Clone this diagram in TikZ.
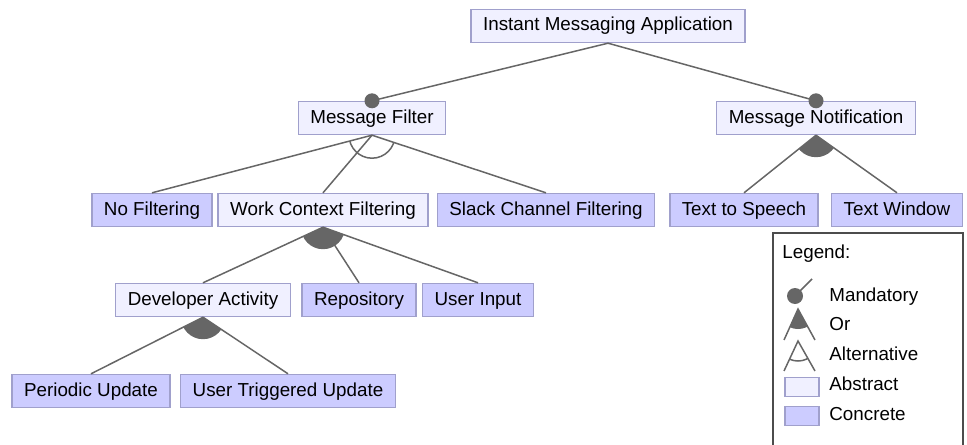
\documentclass[tikz,border=0pt]{standalone}
\usepackage{fontspec}
\setmainfont{Liberation Sans}

\definecolor{abstractfill}{HTML}{F0F0FF}
\definecolor{concretefill}{HTML}{CCCCFF}
\definecolor{featborder}{HTML}{A0A0CC}
\definecolor{edgegray}{HTML}{666666}

\tikzset{
  feature/.style={draw=featborder, line width=0.7pt, minimum height=16.5pt,
    inner xsep=6pt, inner ysep=0pt, text height=7pt, text depth=2pt,
    font=\fontsize{9.4}{11}\selectfont},
  abstract/.style={feature, fill=abstractfill},
  concrete/.style={feature, fill=concretefill},
  edge/.style={draw=edgegray, line width=0.75pt},
  legendtext/.style={anchor=west, inner sep=3pt, text height=7pt, text depth=2pt,
    font=\fontsize{9.4}{11}\selectfont},
}

\begin{document}
\begin{tikzpicture}[x=0.5pt, y=-0.5pt]
  \path[use as bounding box] (0,0) rectangle (967,444);

  % features
  \node[abstract] at (608,26) (ima) {Instant Messaging Application};
  \node[abstract] at (372,118) (filter) {Message Filter};
  \node[abstract] at (816,118) (notif) {Message Notification};
  \node[concrete] at (152,210) (nofilt) {No Filtering};
  \node[abstract] at (323,210) (workctx) {Work Context Filtering};
  \node[concrete] at (546,210) (slack) {Slack Channel Filtering};
  \node[concrete] at (744,210) (speech) {Text to Speech};
  \node[concrete] at (897,210) (window) {Text Window};
  \node[abstract] at (203,300) (devact) {Developer Activity};
  \node[concrete] at (359,300) (repo) {Repository};
  \node[concrete] at (478,300) (userin) {User Input};
  \node[concrete] at (91,391) (periodic) {Periodic Update};
  \node[concrete] at (288,391) (triggered) {User Triggered Update};

  % edges
  \path[edge] (ima.south) -- (filter.north);
  \path[edge] (ima.south) -- (notif.north);
  \path[edge] (filter.south) -- (nofilt.north);
  \path[edge] (filter.south) -- (workctx.north);
  \path[edge] (filter.south) -- (slack.north);
  \path[edge] (notif.south) -- (speech.north);
  \path[edge] (notif.south) -- (window.north);
  \path[edge] (workctx.south) -- (devact.north);
  \path[edge] (workctx.south) -- (repo.north);
  \path[edge] (workctx.south) -- (userin.north);
  \path[edge] (devact.south) -- (periodic.north);
  \path[edge] (devact.south) -- (triggered.north);

  % mandatory
  \fill[edgegray] (filter.north) circle (3.75pt);
  \fill[edgegray] (notif.north) circle (3.75pt);

  % alternative group
  \begin{scope}
    \clip (filter.south) -- (nofilt.north) -- (slack.north) -- cycle;
    \draw[edge] (filter.south) circle (11.5pt);
  \end{scope}

  % or groups
  \begin{scope}
    \clip (notif.south) circle (11pt);
    \fill[edgegray] (notif.south) -- (speech.north) -- (window.north) -- cycle;
  \end{scope}
  \begin{scope}
    \clip (workctx.south) circle (11pt);
    \fill[edgegray] (workctx.south) -- (devact.north) -- (userin.north) -- cycle;
  \end{scope}
  \begin{scope}
    \clip (devact.south) circle (11pt);
    \fill[edgegray] (devact.south) -- (periodic.north) -- (triggered.north) -- cycle;
  \end{scope}

  % legend
  \draw[draw=black!70, line width=0.6pt] (773,450) |- (963,233) -- (963,450);
  \node[legendtext] at (776,253) (legtitle) {Legend:};

  \coordinate (mandot) at (795,296);
  \coordinate (mantip) at (812,279);
  \fill[edgegray] (mandot) circle (4pt);
  \path[edge] (mandot) -- (mantip);
  \node[legendtext] at (823,296) (legmand) {Mandatory};

  \coordinate (ortop) at (798,309);
  \coordinate (orleft) at (784,340);
  \coordinate (orright) at (815,340);
  \begin{scope}
    \clip (ortop) circle (10pt);
    \fill[edgegray] (ortop) -- (orleft) -- (orright) -- cycle;
  \end{scope}
  \path[edge] (orleft) -- (ortop) -- (orright);
  \node[legendtext] at (823,325) (legor) {Or};

  \coordinate (alttop) at (798,341);
  \coordinate (altleft) at (784,371);
  \coordinate (altright) at (815,371);
  \begin{scope}
    \clip (alttop) -- (altleft) -- (altright) -- cycle;
    \draw[edge] (alttop) circle (10pt);
  \end{scope}
  \path[edge] (altleft) -- (alttop) -- (altright);
  \node[legendtext] at (823,355) (legalt) {Alternative};

  \node[abstract, minimum width=17pt, minimum height=9.5pt, inner sep=0pt,
    text height=0pt, text depth=0pt] at (802,387) (swabs) {};
  \node[legendtext] at (823,385) (legabs) {Abstract};
  \node[concrete, minimum width=17pt, minimum height=9.5pt, inner sep=0pt,
    text height=0pt, text depth=0pt] at (802,416) (swcon) {};
  \node[legendtext] at (823,415) (legcon) {Concrete};
\end{tikzpicture}
\end{document}
